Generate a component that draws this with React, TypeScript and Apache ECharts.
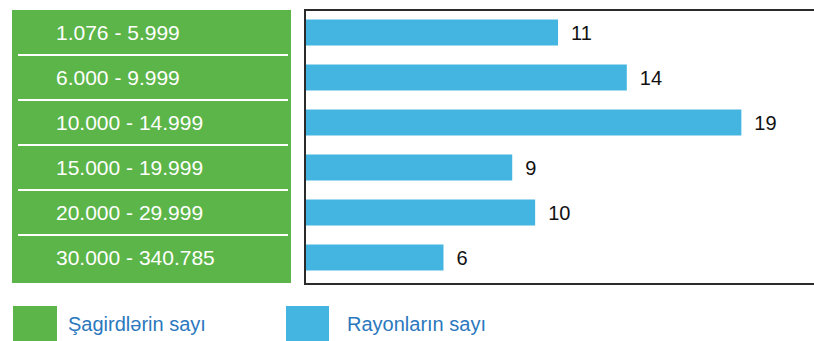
import React, { useEffect, useRef } from "react";
import * as echarts from "echarts";

const categories = [
  "1.076 - 5.999",
  "6.000 - 9.999",
  "10.000 - 14.999",
  "15.000 - 19.999",
  "20.000 - 29.999",
  "30.000 - 340.785",
];
const districtCounts = [11, 14, 19, 9, 10, 6];
const legendNames = ["Şagirdlərin sayı", "Rayonların sayı"];

const GREEN = "#5cb548";
const BLUE = "#44b5e0";
const FRAME = "#2b2b2b";
const LEGEND_TEXT = "#2b78be";
const FONT = "'Liberation Sans', Arial, Helvetica, sans-serif";

export default function App() {
  const ref = useRef<HTMLDivElement>(null);
  useEffect(() => {
    if (!ref.current) return;
    const chart = echarts.init(ref.current, undefined, { renderer: "svg" });
    const frameLine = { show: true, lineStyle: { color: FRAME, width: 2 } };
    chart.setOption({
      animation: false,
      textStyle: { fontFamily: FONT },
      grid: [
        { left: 18, top: 10, width: 270, height: 270 },
        { left: 306, top: 10, width: 510, height: 270 },
      ],
      xAxis: [
        { gridIndex: 0, type: "value", min: 0, max: 1, show: false },
        {
          gridIndex: 1,
          type: "value",
          min: 0,
          max: 22.17,
          position: "bottom",
          offset: 4,
          axisLine: frameLine,
          axisTick: { show: false },
          axisLabel: { show: false },
          splitLine: { show: false },
        },
        {
          gridIndex: 1,
          type: "value",
          min: 0,
          max: 22.17,
          position: "top",
          axisLine: frameLine,
          axisTick: { show: false },
          axisLabel: { show: false },
          splitLine: { show: false },
        },
      ],
      yAxis: [
        {
          gridIndex: 0,
          type: "category",
          data: categories,
          inverse: true,
          axisLine: { show: false },
          axisTick: { show: false },
          axisLabel: { show: false },
          splitLine: {
            show: true,
            lineStyle: {
              width: 2,
              color: ["rgba(0,0,0,0)", "#ffffff", "#ffffff", "#ffffff", "#ffffff", "#ffffff", "rgba(0,0,0,0)"],
            },
          },
        },
        {
          gridIndex: 1,
          type: "category",
          data: categories,
          inverse: true,
          axisLine: { show: false },
          axisTick: { show: false },
          splitLine: { show: false },
          axisLabel: {
            margin: 250,
            align: "left",
            color: "#ffffff",
            fontSize: 21,
            fontFamily: FONT,
          },
          z: 10,
        },
      ],
      graphic: [
        {
          type: "rect",
          z: -10,
          shape: { x: 12, y: 10, width: 279, height: 273 },
          style: { fill: GREEN },
        },
        {
          type: "line",
          z: 100,
          shape: { x1: 305, y1: 9, x2: 305, y2: 285 },
          style: { stroke: FRAME, lineWidth: 2 },
        },
        {
          type: "rect",
          shape: { x: 13, y: 306, width: 44, height: 40 },
          style: { fill: GREEN },
        },
        {
          type: "text",
          x: 68,
          y: 324,
          style: {
            text: legendNames[0],
            fill: LEGEND_TEXT,
            font: `20px ${FONT}`,
            textVerticalAlign: "middle",
          },
        },
        {
          type: "rect",
          shape: { x: 286, y: 306, width: 43, height: 40 },
          style: { fill: BLUE },
        },
        {
          type: "text",
          x: 347,
          y: 324,
          style: {
            text: legendNames[1],
            fill: LEGEND_TEXT,
            font: `20px ${FONT}`,
            textVerticalAlign: "middle",
          },
        },
      ],
      series: [
        {
          type: "bar",
          name: legendNames[1],
          xAxisIndex: 1,
          yAxisIndex: 1,
          data: districtCounts,
          barWidth: 26,
          itemStyle: { color: BLUE },
          label: {
            show: true,
            position: "right",
            distance: 13,
            color: "#111111",
            fontSize: 20,
            fontFamily: FONT,
          },
        },
      ],
    });
    return () => chart.dispose();
  }, []);
  return (
    <div
      ref={ref}
      style={{ position: "fixed", left: 0, top: 0, width: 814, height: 341, background: "#ffffff" }}
    />
  );
}
